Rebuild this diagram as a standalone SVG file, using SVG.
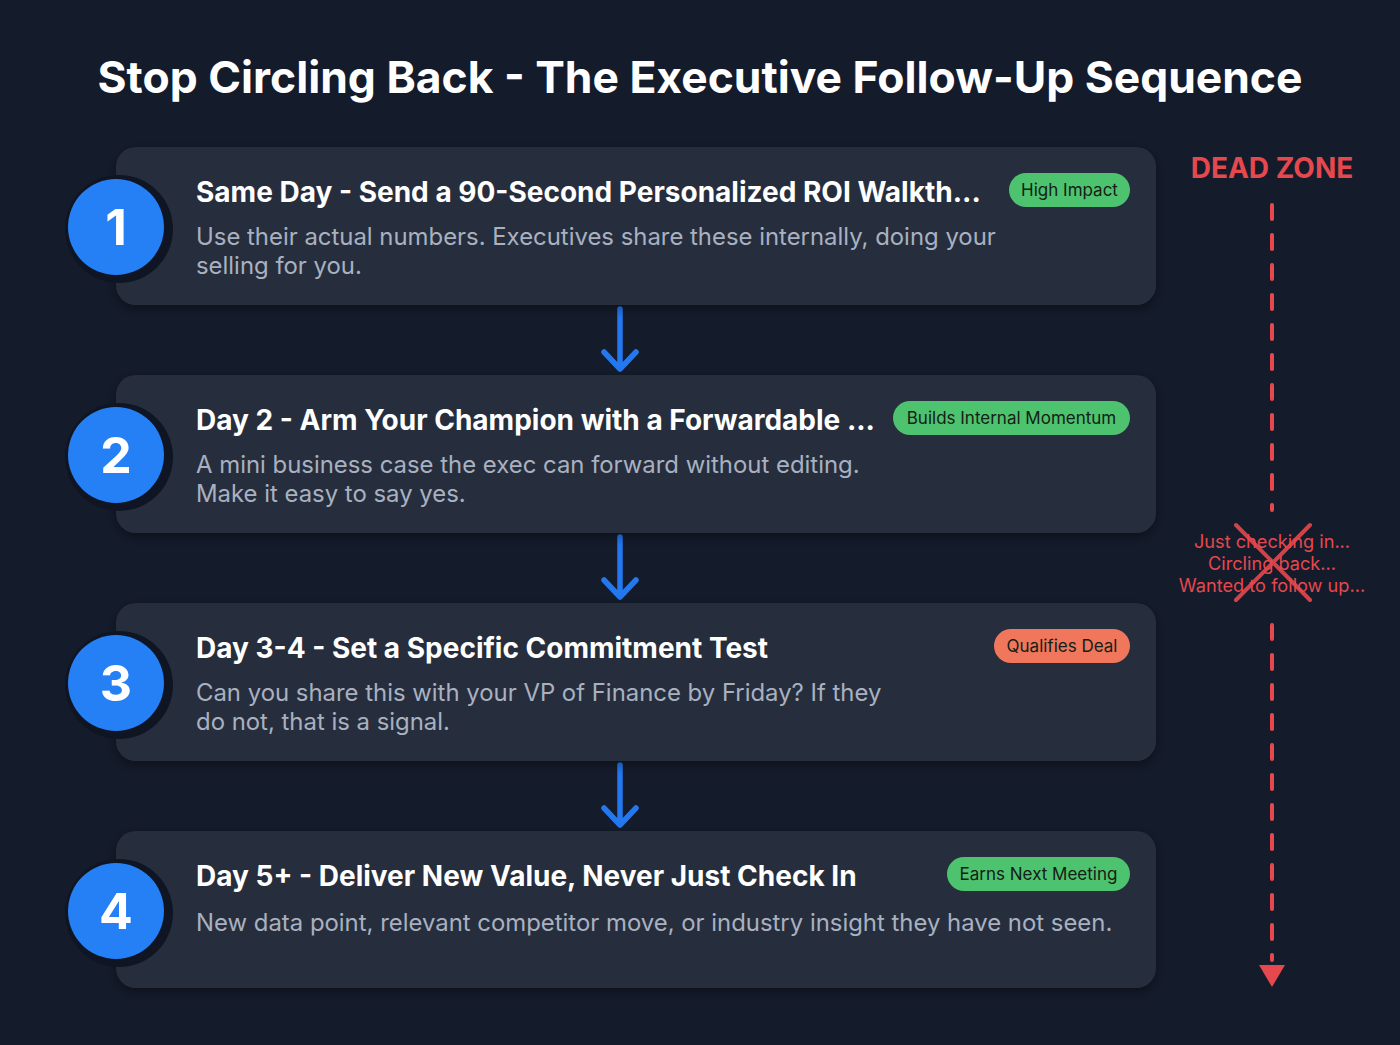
<svg xmlns="http://www.w3.org/2000/svg" width="1400" height="1045" viewBox="0 0 1400 1045">
<defs>
<style>
.card{fill:#272e3d}
.ring{fill:#0f1523}
.num{fill:#2680f5}
.numt{font-family:Inter,"Liberation Sans",sans-serif;font-weight:700;font-size:50px;fill:#ffffff;text-anchor:middle}
.ttl{font-family:Inter,"Liberation Sans",sans-serif;font-weight:700;font-size:28px;fill:#ffffff}
.desc{font-family:Inter,"Liberation Sans",sans-serif;font-size:23.9px;fill:#a9b1c0}
.badge{font-family:Inter,"Liberation Sans",sans-serif;font-size:17px;fill:#142016;text-anchor:middle}
.flow{stroke:#2378f0;stroke-width:5.5;fill:none;stroke-linecap:round;stroke-linejoin:round}
.dz{stroke:#e5484d;stroke-width:4;stroke-dasharray:14 16;stroke-linecap:round;fill:none}
.dzt{font-family:Inter,"Liberation Sans",sans-serif;font-size:18.2px;fill:#e5484d;text-anchor:middle}
</style>
<filter id="sh" x="-10%" y="-20%" width="120%" height="150%"><feDropShadow dx="0" dy="4" stdDeviation="6" flood-color="#000" flood-opacity="0.4"/></filter>
</defs>
<rect width="1400" height="1045" fill="#141b2b"/>
<text x="700" y="93" text-anchor="middle" font-family="Inter,'Liberation Sans',sans-serif" font-weight="700" font-size="44.4" fill="#ffffff">Stop Circling Back - The Executive Follow-Up Sequence</text>

<g id="connectors">
<path class="flow" d="M620 309 V369 M604 352 L620 369 L636 352"/>
<path class="flow" d="M620 537 V597 M604 580 L620 597 L636 580"/>
<path class="flow" d="M620 765 V825 M604 808 L620 825 L636 808"/>
</g>

<g id="step1">
<rect class="card" x="116" y="147" width="1040" height="158" rx="20" filter="url(#sh)"/>
<circle class="ring" cx="119" cy="229" r="54"/>
<circle class="num" cx="116" cy="227" r="48"/>
<text class="numt" x="116" y="245">1</text>
<text class="ttl" x="196" y="202">Same Day - Send a 90-Second Personalized ROI Walkth...</text>
<text class="desc" x="196" y="245">Use their actual numbers. Executives share these internally, doing your</text>
<text class="desc" x="196" y="274">selling for you.</text>
<rect x="1009" y="173" width="121" height="34" rx="17" fill="#4ec36f"/>
<text class="badge" x="1069.5" y="196">High Impact</text>
</g>

<g id="step2">
<rect class="card" x="116" y="375" width="1040" height="158" rx="20" filter="url(#sh)"/>
<circle class="ring" cx="119" cy="457" r="54"/>
<circle class="num" cx="116" cy="455" r="48"/>
<text class="numt" x="116" y="473">2</text>
<text class="ttl" x="196" y="430">Day 2 - Arm Your Champion with a Forwardable ...</text>
<text class="desc" x="196" y="473">A mini business case the exec can forward without editing.</text>
<text class="desc" x="196" y="502">Make it easy to say yes.</text>
<rect x="893" y="401" width="237" height="34" rx="17" fill="#4ec36f"/>
<text class="badge" x="1011.5" y="424">Builds Internal Momentum</text>
</g>

<g id="step3">
<rect class="card" x="116" y="603" width="1040" height="158" rx="20" filter="url(#sh)"/>
<circle class="ring" cx="119" cy="685" r="54"/>
<circle class="num" cx="116" cy="683" r="48"/>
<text class="numt" x="116" y="701">3</text>
<text class="ttl" x="196" y="658">Day 3-4 - Set a Specific Commitment Test</text>
<text class="desc" x="196" y="701">Can you share this with your VP of Finance by Friday? If they</text>
<text class="desc" x="196" y="730">do not, that is a signal.</text>
<rect x="994" y="629" width="136" height="34" rx="17" fill="#f0765c"/>
<text class="badge" x="1062" y="652">Qualifies Deal</text>
</g>

<g id="step4">
<rect class="card" x="116" y="831" width="1040" height="157" rx="20" filter="url(#sh)"/>
<circle class="ring" cx="119" cy="913" r="54"/>
<circle class="num" cx="116" cy="911" r="48"/>
<text class="numt" x="116" y="929">4</text>
<text class="ttl" x="196" y="886">Day 5+ - Deliver New Value, Never Just Check In</text>
<text class="desc" x="196" y="931">New data point, relevant competitor move, or industry insight they have not seen.</text>
<rect x="947" y="857" width="183" height="34" rx="17" fill="#4ec36f"/>
<text class="badge" x="1038.5" y="880">Earns Next Meeting</text>
</g>

<g id="deadzone">
<text x="1272" y="178" text-anchor="middle" font-family="Inter,'Liberation Sans',sans-serif" font-weight="700" font-size="28" fill="#e5484d">DEAD ZONE</text>
<path class="dz" d="M1272 205 V510"/>
<path class="dz" d="M1272 625 V960"/>
<polygon points="1259,965 1285,965 1272,987" fill="#e5484d"/>
<text class="dzt" x="1272" y="548">Just checking in...</text>
<text class="dzt" x="1272" y="570">Circling back...</text>
<text class="dzt" x="1272" y="592">Wanted to follow up...</text>
<path d="M1236 525 L1310 600 M1310 525 L1236 600" stroke="#e5484d" stroke-width="4" stroke-linecap="round" opacity="0.9"/>
</g>
</svg>
